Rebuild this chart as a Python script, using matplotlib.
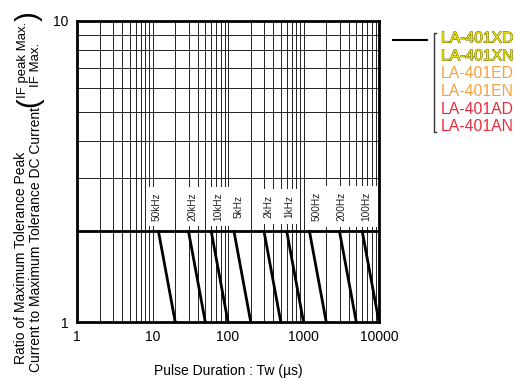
import numpy as np
import matplotlib
matplotlib.use('Agg')
import matplotlib.pyplot as plt
import matplotlib.patheffects as pe

plt.rcParams['font.family'] = ['Liberation Sans', 'DejaVu Sans']

# 频率标签及每条斜线的起点(比值=2)与终点(比值=1)
freq_labels = ['50kHz', '20kHz', '10kHz', '5kHz', '2kHz', '1kHz', '500Hz', '200Hz', '100Hz']
tw_start = [12, 30, 60, 120, 300, 600, 1200, 3000, 6000]
tw_end = [20, 50, 100, 200, 500, 1000, 2000, 5000, 10000]
label_x = [11.4, 34, 74, 137, 342, 649, 1496, 3205, 6870]
plateau = 2

models = ['LA-401XD', 'LA-401XN', 'LA-401ED', 'LA-401EN', 'LA-401AD', 'LA-401AN']
model_colors = ['#ece400', '#ece400', '#f5a040', '#f5a040', '#ec2a3a', '#ec2a3a']

fig = plt.figure(figsize=(5.16, 3.81), dpi=100)
ax = fig.add_axes([77/516, 59/381, 302/516, 301/381])
ax.set_xscale('log')
ax.set_yscale('log')
ax.set_xlim(1, 10000)
ax.set_ylim(1, 10)

# 网格
xs = [m * 10**d for d in range(4) for m in range(1, 10)][1:]
ys = list(range(2, 10))
for x in xs:
    ax.axvline(x, color='#222222', lw=0.7, zorder=1)
for y in ys:
    ax.axhline(y, color='#222222', lw=0.7, zorder=1)

# 平台线和斜线
ax.plot([1, 10000], [plateau, plateau], color='black', lw=2, zorder=4)
for s, e in zip(tw_start, tw_end):
    ax.plot([s, e], [plateau, 1], color='black', lw=2, zorder=4)

for lab, x in zip(freq_labels, label_x):
    ax.text(x, 2.42, lab, rotation=90, ha='center', va='center', fontsize=7.3,
            color='#222222', zorder=3,
            bbox=dict(boxstyle='square,pad=0.55', fc='white', ec='none'))

ax.set_xticks([1, 10, 100, 1000, 10000])
ax.set_xticklabels(['1', '10', '100', '1000', '10000'])
ax.set_yticks([1, 10])
ax.set_yticklabels(['1', '10'])
ax.minorticks_off()
ax.tick_params(length=0, labelsize=10, pad=6)
for sp in ax.spines.values():
    sp.set_linewidth(2)
    sp.set_zorder(5)
ax.set_xlabel('Pulse Duration : Tw (µs)', fontsize=10, labelpad=14)

# Y轴标签
fig.text(21/516, 1 - 258/381, 'Ratio of Maximum Tolerance Peak', rotation=90,
         ha='center', va='center', fontsize=10)
fig.text(36/516, 1 - 239/381, 'Current to Maximum Tolerance DC Current', rotation=90,
         ha='center', va='center', fontsize=10)
fig.text(23/516, 1 - 60/381, 'IF peak Max.', rotation=90, ha='center', va='center', fontsize=9.5)
fig.text(36/516, 1 - 65/381, 'IF Max.', rotation=90, ha='center', va='center', fontsize=9.5)
fig.text(29/516, 1 - 102/381, '(', rotation=90, ha='center', va='center', fontsize=21)
fig.text(29/516, 1 - 16/381, ')', rotation=90, ha='center', va='center', fontsize=21)

# 图例
fig.add_artist(plt.Line2D([393/516, 427/516], [1 - 40/381, 1 - 40/381], color='black', lw=1.5))
fig.add_artist(plt.Line2D([436/516, 434/516, 434/516, 436/516],
                          [1 - 33/381, 1 - 33/381, 1 - 132/381, 1 - 132/381],
                          color='#333333', lw=1))
for i, (m, c) in enumerate(zip(models, model_colors)):
    t = fig.text(441/516, 1 - (38 + i * 17.8)/381, m, color=c, fontsize=11.3, ha='left', va='center')
    if i < 2:
        t.set_path_effects([pe.withStroke(linewidth=0.7, foreground='#6a6a00')])

fig.savefig('out.png', dpi=100)
